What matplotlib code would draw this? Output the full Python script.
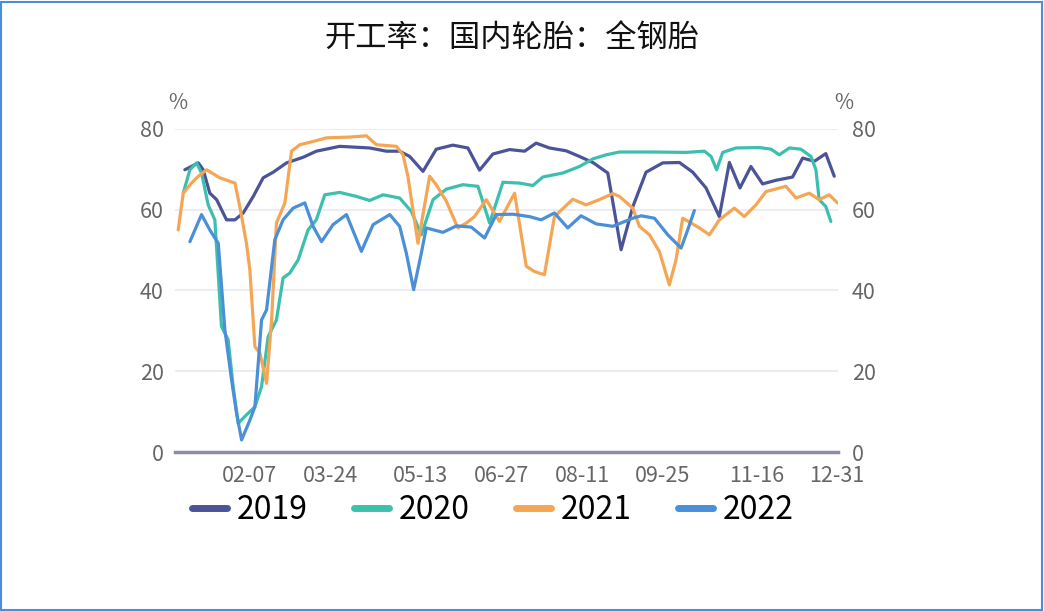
import matplotlib.pyplot as plt
from matplotlib.patches import Rectangle

plt.rcParams['font.family'] = ['Noto Sans CJK SC', 'DejaVu Sans']

# day of year -> operating rate (%)
days_2019 = [1.8, 9.3, 12, 15.7, 19.5, 25, 29.7, 34.3, 39.9, 45.4, 51, 58.4, 67.7, 75, 88, 104.7, 114,
             121.4, 127, 134.4, 141.8, 151, 159.4, 165.9, 173.3, 182.6, 191, 197.4, 204.8, 214.1, 221.5,
             229, 237.3, 244.7, 251.2, 258.6, 267.9, 277.2, 284.6, 292, 299.4, 305, 310.9, 317, 323.5,
             331, 340.2, 345.8, 352.3, 358.7, 363.4]
vals_2019 = [69.9, 71.6, 69.9, 64.1, 62.5, 57.5, 57.5, 59.2, 63.3, 67.9, 69.3, 71.6, 73, 74.5, 75.7, 75.3, 74.5,
             74.5, 73.2, 69.5, 75, 76, 75.3, 69.8, 73.8, 74.9, 74.5, 76.5, 75.3, 74.6, 73.2,
             71.7, 69.1, 50.1, 60.7, 69.3, 71.6, 71.7, 69.3, 65.4, 58.3, 71.7, 65.4, 70.7, 66.4,
             67.3, 68.1, 72.8, 72, 73.9, 68.3]

days_2020 = [0.9, 4.6, 8.3, 11.1, 14.8, 18.5, 22.2, 25.9, 28.7, 31.5, 36.1, 40.8, 44.5, 48.2, 52.8, 56.5,
             60.2, 64.9, 70.4, 75, 79.7, 88, 97.3, 104.7, 112.2, 121.4, 127.9, 133.5, 140, 147.4, 156.6,
             165, 171.5, 178.9, 188.1, 195.6, 201.1, 212.3, 221.5, 229, 236.4, 243.8, 262.3, 280.9,
             291.1, 294.8, 297.9, 301.3, 308.7, 321.7, 328.2, 332.8, 338.4, 344.8, 350.4, 353.2, 355,
             358.7, 361.5]
vals_2020 = [64.1, 69.9, 71.6, 69.1, 61.2, 57.5, 31.1, 27.8, 16.2, 7.1, 9.2, 11.2, 16.2, 28.6, 32.7, 43.1,
             44.3, 47.6, 55, 57.5, 63.7, 64.3, 63.3, 62.3, 63.7, 62.9, 59.6, 53.8, 62.5, 65.1, 66.2,
             65.8, 56.7, 66.8, 66.6, 66, 68.1, 69.1, 70.7, 72.6, 73.6, 74.3, 74.3, 74.2,
             74.5, 73.2, 69.9, 74.2, 75.3, 75.4, 75, 73.6, 75.3, 75, 73.2, 69.9, 62.5,
             60.8, 57.1]

days_2021 = [-1.9, 0.9, 5.5, 9.3, 13.9, 21.3, 29.7, 32.4, 36.1, 38, 40.8, 43.6, 47.3, 50.1, 52.8, 57.5,
             61.2, 65.8, 73.2, 80.6, 93.6, 102.9, 108.5, 119.6, 123.3, 126, 131.6, 138.1, 141.8, 147.4,
             153.8, 158.5, 163.1, 169.6, 177, 185.4, 191.9, 196.5, 202, 207.6, 217.8, 225.2, 232.6,
             240.1, 243.8, 251.2, 254.9, 260.5, 266, 271.6, 275.3, 279, 283.7, 288.3, 293.9, 299.4,
             307.8, 313.3, 319.8, 325.4, 336.5, 342.1, 349.5, 355, 360.6, 365.2]
vals_2021 = [55, 64.1, 66.6, 68.3, 69.9, 67.9, 66.6, 60.8, 51.7, 45.1, 26.1, 24.5, 17, 32.7, 56.7, 61.7,
             74.5, 76.1, 76.9, 77.8, 78, 78.3, 76.1, 75.7, 73.6, 68.3, 51.7, 68.3, 66.2, 62.1,
             55.5, 56.7, 58.3, 62.5, 57.1, 64.1, 46, 44.7, 43.9, 58.3, 62.6, 61.2, 62.5,
             64, 63.3, 60.4, 55.9, 53.8, 49.7, 41.4, 47.6, 57.9, 56.7, 55.5, 53.8, 57.5,
             60.4, 58.3, 61.2, 64.5, 65.8, 62.9, 64.1, 62.5, 63.7, 61.7]

days_2022 = [4.6, 11.1, 15.7, 20.4, 24.1, 27.8, 30.6, 33.4, 38, 40.8, 44.5, 47.3, 51.9, 56.5, 62.1, 68.6,
             73.2, 77.9, 84.3, 91.8, 100.1, 106.6, 115.9, 121.4, 125.1, 129.2, 133.5, 136.2, 145.5, 153,
             161.3, 168.7, 175.2, 184.4, 193.7, 200.2, 207.6, 215, 222.4, 230.8, 240.1, 251.2, 255.9,
             263.3, 270.7, 278.1, 281.8, 285.5]
vals_2022 = [52.1, 58.8, 55, 51.7, 30.2, 17.9, 9.6, 3, 7.9, 11.2, 32.7, 35.2, 52.6, 57.5, 60.4, 61.7,
             55.9, 52.1, 56.3, 58.8, 49.7, 56.3, 58.8, 55.9, 49.3, 40.2, 49.3, 55.5, 54.4, 56,
             55.7, 53, 58.8, 58.9, 58.3, 57.5, 59.2, 55.5, 58.5, 56.5, 55.9, 57.9, 58.5,
             57.9, 53.8, 50.5, 55, 59.8]

tick_days = [38, 83, 133, 178, 223, 268, 320, 365]
tick_labels = ['02-07', '03-24', '05-13', '06-27', '08-11', '09-25', '11-16', '12-31']

series = [('2019', days_2019, vals_2019, '#4b5497'),
          ('2020', days_2020, vals_2020, '#3dbfae'),
          ('2021', days_2021, vals_2021, '#f5a655'),
          ('2022', days_2022, vals_2022, '#4a8fd8')]

fig = plt.figure(figsize=(10.44, 6.11), dpi=100)
ax = fig.add_axes([0.1676, 0.2602, 0.6351, 0.5287])

for name, d, v, c in series:
    ax.plot(d, v, color=c, lw=2.3, label=name, solid_joinstyle='round', solid_capstyle='round')

ax.set_xlim(-3.7, 365.5)
ax.set_ylim(0, 80)
ax.set_yticks([0, 20, 40, 60, 80])
ax.set_xticks(tick_days)
ax.set_xticklabels(tick_labels)
ax.yaxis.grid(True, color='#ebebf5', lw=1.3)
ax.set_axisbelow(True)
for s in ['top', 'right', 'left']:
    ax.spines[s].set_visible(False)
ax.spines['bottom'].set_color('#8c8ca8')
ax.spines['bottom'].set_linewidth(2.5)
ax.tick_params(axis='both', length=0, labelsize=15.5, colors='#666666', pad=8)
ax.tick_params(axis='x', pad=9)

ax2 = ax.twinx()
ax2.set_ylim(0, 80)
ax2.set_yticks([0, 20, 40, 60, 80])
for s in ['top', 'right', 'left', 'bottom']:
    ax2.spines[s].set_visible(False)
ax2.tick_params(axis='y', length=0, labelsize=15.5, colors='#666666', pad=10)

fig.text(0.170, 0.832, '%', fontsize=15, color='#666666', ha='center', va='center')
fig.text(0.808, 0.832, '%', fontsize=15, color='#666666', ha='center', va='center')

fig.text(0.490, 0.937, '开工率：国内轮胎：全钢胎', fontsize=22.5, ha='center', va='center', color='#111111')

leg = fig.legend(loc='center', bbox_to_anchor=(0.472, 0.165), ncol=4, frameon=False,
                 fontsize=23, handlelength=1.1, handletextpad=0.3, columnspacing=1.45)
for line in leg.get_lines():
    line.set_linewidth(5)

fig.patches.append(Rectangle((0.001, 0.002), 0.997, 0.995, transform=fig.transFigure,
                             fill=False, edgecolor='#4a90d9', lw=1.5))

fig.savefig('out.png', dpi=100)
